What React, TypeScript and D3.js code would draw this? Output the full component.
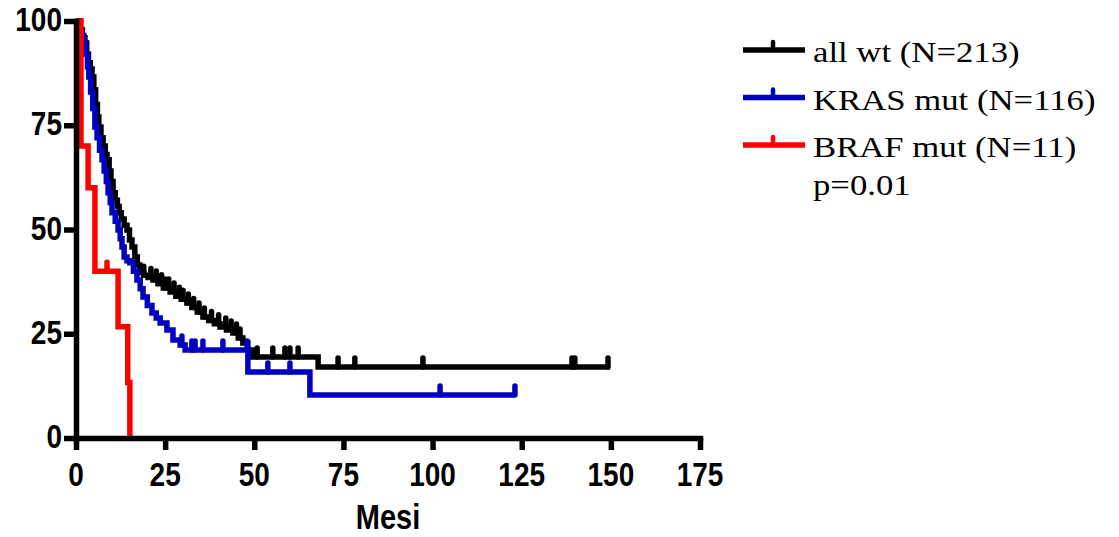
import { useEffect, useRef } from 'react';
import * as d3 from 'd3';

// Kaplan-Meier steps: time (months) and survival (%)
const wtTimes = [0, 1.1, 1.8, 2.5, 3.0, 3.5, 4.0, 4.5, 5.0, 5.5, 6.0, 6.4, 7.0, 7.6, 8.2, 8.7, 9.3, 9.8, 10.4, 11.0, 11.6, 12.1, 12.7, 13.5, 14.3, 15.0, 15.7, 16.5, 17.2, 17.9, 19.0, 20.2, 21.6, 23.0, 24.5, 26.4, 28.0, 29.5, 31.1, 32.5, 34.0, 35.6, 37.2, 38.8, 40.4, 42.2, 44.0, 45.5, 46.8, 48.2, 49.6, 67.9];
const wtSurv = [100, 97.8, 96, 94.7, 92, 90, 88.5, 86.6, 83.5, 80, 77, 74.6, 72, 70, 68, 66.7, 64, 61.5, 58.8, 57, 55.5, 54, 52.5, 51, 49.9, 47.5, 45.8, 43.4, 41.5, 39.6, 39, 38.5, 37.9, 37, 36, 35, 34, 33.3, 32.4, 31.3, 30.2, 29, 28.2, 27.4, 26.6, 25.9, 25.2, 24, 22.8, 21.1, 19.4, 17];
const wtEnd = 149.7;
const wtCensor = [19, 21, 22.5, 24, 25, 26, 27.5, 29, 30, 31.5, 33, 34.5, 36, 38, 40, 42, 43.5, 45, 46, 50.8, 55.2, 58.6, 60, 62.3, 73.5, 78.2, 97.3, 139.1, 139.9, 149.2];

const krasTimes = [0, 1.0, 1.6, 2.2, 2.7, 3.2, 3.6, 4.1, 4.7, 5.3, 5.9, 6.6, 7.3, 7.9, 8.5, 9.0, 9.6, 10.1, 11.0, 11.8, 12.4, 12.9, 13.5, 14.3, 15.1, 16.1, 17.1, 18.0, 18.8, 20.0, 21.3, 22.5, 23.6, 25.5, 27.2, 29.2, 30.6, 48.2, 65.6];
const krasSurv = [100, 98, 96.5, 94.7, 92, 89, 86.6, 83, 79, 74.6, 72, 69, 66.7, 64, 61.5, 58.8, 56.5, 54, 52, 49.9, 47.8, 45.8, 43.4, 42.5, 42, 40, 37.9, 35.8, 33.8, 31.8, 30, 28.8, 27.6, 25.9, 23.5, 22.3, 21.1, 15.8, 10.3];
const krasEnd = 123.1;
const krasCensor = [29.7, 32.5, 33.4, 35.6, 41.2, 48.0, 53.8, 60.0, 102.1, 123.1];

const brafTimes = [0, 1.4, 3.4, 5.3, 11.8, 14.5, 15.1];
const brafSurv = [100, 70, 60, 40, 26.67, 13.33, 0];
const brafEnd = 15.1;
const brafCensor = [8.7];

const xTicks = [0, 25, 50, 75, 100, 125, 150, 175];
const yTicks = [0, 25, 50, 75, 100];

const series = [
  { label: 'all wt (N=213)', color: '#000000', times: wtTimes, surv: wtSurv, end: wtEnd, censor: wtCensor },
  { label: 'KRAS mut (N=116)', color: '#0000c0', times: krasTimes, surv: krasSurv, end: krasEnd, censor: krasCensor },
  { label: 'BRAF mut (N=11)', color: '#ff0000', times: brafTimes, surv: brafSurv, end: brafEnd, censor: brafCensor },
];
const pLabel = 'p=0.01';

const sansBold = 'Liberation Sans, Arial, sans-serif';
const serif = 'Liberation Serif, Times New Roman, serif';

export default function App() {
  const svgRef = useRef<SVGSVGElement>(null);

  useEffect(() => {
    const width = 1119;
    const height = 537;
    const svg = d3.select(svgRef.current).attr('width', width).attr('height', height);
    svg.selectAll('*').remove();

    const x = d3.scaleLinear().domain([0, 175]).range([76, 700]);
    const y = d3.scaleLinear().domain([0, 100]).range([438, 21]);

    const line = d3.line<[number, number]>()
      .x(d => x(d[0]))
      .y(d => y(d[1]))
      .curve(d3.curveStepAfter);

    series.forEach(s => {
      const pts: [number, number][] = s.times.map((t, i) => [t, s.surv[i]]);
      pts.push([s.end, s.surv[s.surv.length - 1]]);
      const g = svg.append('g');
      g.append('path')
        .attr('d', line(pts))
        .attr('fill', 'none')
        .attr('stroke', s.color)
        .attr('stroke-width', 5.5);
      const bis = d3.bisector((t: number) => t).right;
      const at = (d: number) => s.surv[Math.max(0, bis(s.times, d) - 1)];
      g.selectAll('line')
        .data(s.censor)
        .join('line')
        .attr('x1', d => x(d))
        .attr('x2', d => x(d))
        .attr('y1', d => y(at(d)))
        .attr('y2', d => y(at(d)) - 9)
        .attr('stroke', s.color)
        .attr('stroke-width', 5.5)
        .attr('stroke-linecap', 'round');
    });

    const yAxis = svg.append('g')
      .attr('transform', `translate(${x(0)},0)`)
      .call(d3.axisLeft(y).tickValues(yTicks).tickSize(12).tickSizeOuter(0).tickFormat(() => ''));
    const xAxis = svg.append('g')
      .attr('transform', `translate(0,${y(0)})`)
      .call(d3.axisBottom(x).tickValues(xTicks).tickSize(12).tickSizeOuter(0).tickFormat(() => ''));

    [yAxis, xAxis].forEach(a => {
      a.select('.domain').attr('stroke-width', 5.5).attr('stroke-linecap', 'square');
      a.selectAll('.tick line').attr('stroke-width', 5.5);
    });

    // tick labels, slightly tall like the original
    svg.append('g').selectAll('text')
      .data(yTicks)
      .join('text')
      .attr('transform', d => `translate(62,${y(d) + 10}) scale(1,1.2)`)
      .attr('text-anchor', 'end')
      .attr('font-family', sansBold)
      .attr('font-weight', 'bold')
      .attr('font-size', 28)
      .text(d => d);

    svg.append('g').selectAll('text')
      .data(xTicks)
      .join('text')
      .attr('transform', d => `translate(${x(d)},486) scale(1,1.2)`)
      .attr('text-anchor', 'middle')
      .attr('font-family', sansBold)
      .attr('font-weight', 'bold')
      .attr('font-size', 28)
      .text(d => d);

    svg.append('text')
      .attr('transform', `translate(${(x(0) + x(175)) / 2},529) scale(1,1.2)`)
      .attr('text-anchor', 'middle')
      .attr('font-family', sansBold)
      .attr('font-weight', 'bold')
      .attr('font-size', 29)
      .text('Mesi');

    // legend
    const legend = svg.append('g');
    series.forEach((s, i) => {
      const ly = 50 + i * 47.5;
      legend.append('line')
        .attr('x1', 743).attr('x2', 805).attr('y1', ly).attr('y2', ly)
        .attr('stroke', s.color).attr('stroke-width', 5.5);
      legend.append('line')
        .attr('x1', 773).attr('x2', 773).attr('y1', ly).attr('y2', ly - 8)
        .attr('stroke', s.color).attr('stroke-width', 4.5).attr('stroke-linecap', 'round');
      legend.append('text')
        .attr('transform', `translate(813,${ly + 12}) scale(1.24,1.08)`)
        .attr('font-family', serif)
        .attr('font-size', 28)
        .text(s.label);
    });
    legend.append('text')
      .attr('transform', 'translate(813,195) scale(1.24,1.08)')
      .attr('font-family', serif)
      .attr('font-size', 28)
      .text(pLabel);
  }, []);

  return (
    <div style={{ position: 'absolute', left: 0, top: 0 }}>
      <svg ref={svgRef} style={{ display: 'block', background: '#fff' }}></svg>
    </div>
  );
}
